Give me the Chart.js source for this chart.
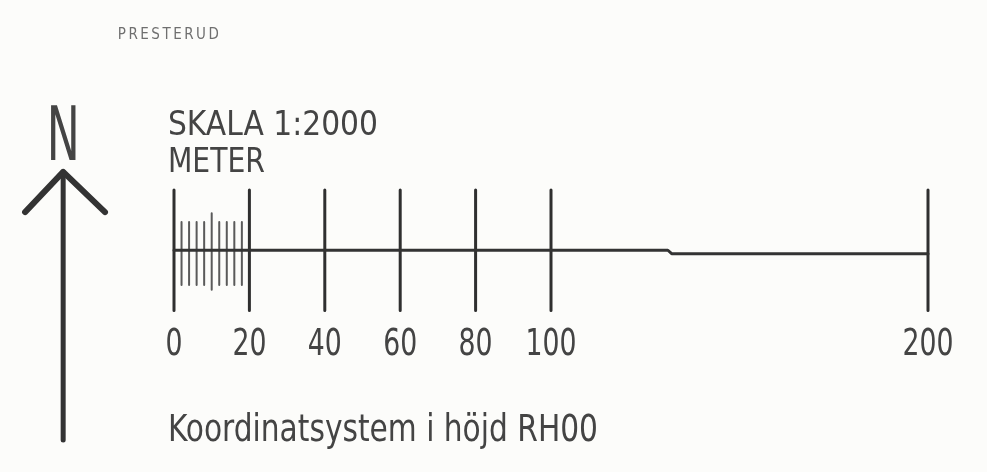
<!DOCTYPE html>
<html>
<head>
<meta charset="utf-8">
<script src="https://cdn.jsdelivr.net/npm/chart.js@4/dist/chart.umd.min.js"></script>
<style>
  html, body { margin: 0; padding: 0; background: #fcfcfa; }
  canvas { display: block; }
</style>
</head>
<body>
<canvas id="skala" width="987" height="472"></canvas>
<script>
// scale bar, all values in meters (1:2000)
const mainTicks = [0, 20, 40, 60, 80, 100, 200];
const tickLabels = ['0', '20', '40', '60', '80', '100', '200'];
const minorTicks = [2, 4, 6, 8, 10, 12, 14, 16, 18];
const baselineX = [0, 131, 132, 200];
const baselineY = [0.2, 0.2, -0.7, -0.7];
// north arrow
const arrowHeadX = [-39.5, -29.4, -18.3];
const arrowHeadY = [10.3, 21, 10.3];
const arrowShaftX = [-29.4, -29.4];
const arrowShaftY = [21, -50.1];

const PX = 3.77; // pixels per meter

function segs(xs, top, bottom) {
    const out = [];
    xs.forEach(x => {
        const t = typeof top === 'function' ? top(x) : top;
        const b = typeof bottom === 'function' ? bottom(x) : bottom;
        out.push({x: x, y: t}, {x: x, y: b}, {x: x, y: null});
    });
    return out;
}
const zip = (xs, ys) => xs.map((x, i) => ({x: x, y: ys[i]}));

const textPlugin = {
    id: 'texts',
    afterDraw(chart) {
        const ctx = chart.ctx;
        const sx = chart.scales.x, sy = chart.scales.y;
        const X = v => sx.getPixelForValue(v), Y = v => sy.getPixelForValue(v);
        const fam = '"Liberation Sans Narrow", "DejaVu Sans Condensed", "Liberation Sans", sans-serif';
        ctx.save();
        ctx.textBaseline = 'alphabetic';

        ctx.fillStyle = '#6f6f6f';
        ctx.font = '15px ' + fam;
        ctx.letterSpacing = '2.5px';
        ctx.textAlign = 'left';
        ctx.fillText('PRESTERUD', X(-14.9), Y(56.3), 116);
        ctx.letterSpacing = '0px';

        ctx.fillStyle = '#444444';
        ctx.font = '34px ' + fam;
        ctx.fillText('SKALA 1:2000', X(-1.6), Y(30.8), 210);
        ctx.fillText('METER', X(-1.6), Y(21), 97);

        ctx.font = '37px ' + fam;
        ctx.textAlign = 'center';
        mainTicks.forEach((v, i) => {
            const w = tickLabels[i].length * 17;
            ctx.fillText(tickLabels[i], X(v), Y(-27.6), w);
        });

        ctx.textAlign = 'left';
        ctx.fillText('Koordinatsystem i höjd RH00', X(-1.6), Y(-50.4), 430);

        ctx.textAlign = 'center';
        ctx.font = '75px ' + fam;
        ctx.fillText('N', X(-29.4), Y(24.1), 33);
        ctx.restore();
    }
};

const lineDs = (data, width, color) => ({
    data: data,
    showLine: true,
    spanGaps: false,
    borderColor: color,
    borderWidth: width,
    pointRadius: 0,
    fill: false,
    borderCapStyle: 'round',
    borderJoinStyle: 'round'
});

new Chart(document.getElementById('skala'), {
    type: 'scatter',
    data: {
        datasets: [
            lineDs(zip(baselineX, baselineY), 3, '#333333'),
            lineDs(segs(minorTicks, x => x === 10 ? 10 : 7.7, x => x === 10 ? -10.3 : -9), 2, '#5a5a5a'),
            lineDs(segs(mainTicks, 16.2, -15.8), 3, '#2f2f2f'),
            lineDs(zip(arrowHeadX, arrowHeadY), 6, '#333333'),
            lineDs(zip(arrowShaftX, arrowShaftY), 5, '#333333')
        ]
    },
    options: {
        responsive: false,
        devicePixelRatio: 1,
        animation: false,
        layout: { padding: 0 },
        plugins: { legend: { display: false }, tooltip: { enabled: false } },
        scales: {
            x: { type: 'linear', display: false, min: -174 / PX, max: (987 - 174) / PX },
            y: { type: 'linear', display: false, min: -(472 - 251) / PX, max: 251 / PX }
        }
    },
    plugins: [textPlugin]
});
</script>
</body>
</html>
